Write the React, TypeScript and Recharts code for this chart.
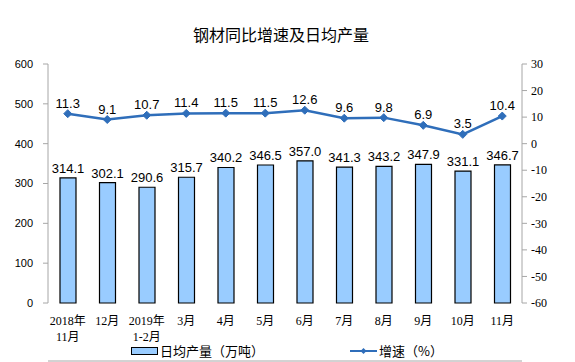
import { Bar, ComposedChart, LabelList, Line, XAxis, YAxis } from "recharts";

const MONTHS = [
  "2018年\n11月",
  "12月",
  "2019年\n1-2月",
  "3月",
  "4月",
  "5月",
  "6月",
  "7月",
  "8月",
  "9月",
  "10月",
  "11月",
];
const OUTPUT = [314.1, 302.1, 290.6, 315.7, 340.2, 346.5, 357.0, 341.3, 343.2, 347.9, 331.1, 346.7];
const GROWTH = [11.3, 9.1, 10.7, 11.4, 11.5, 11.5, 12.6, 9.6, 9.8, 6.9, 3.5, 10.4];
const LEFT_TICKS = [0, 100, 200, 300, 400, 500, 600];
const RIGHT_TICKS = [30, 20, 10, 0, -10, -20, -30, -40, -50, -60];
const BOUNDARY_TICKS = [0, 1, 2, 3, 4, 5, 6, 7, 8, 9, 10, 11, 12];

const LINE_COLOR = "#2F6EBA";
const BAR_FILL = "#99CCFF";
const AXIS_COLOR = "#A6A6A6";
const SANS = "Arial, 'Liberation Sans', 'Noto Sans CJK SC', sans-serif";
const SERIF = "'Times New Roman', 'Liberation Serif', 'Noto Sans CJK SC', serif";

const rows = MONTHS.map((month, i) => ({
  month,
  pos: i + 0.5,
  output: OUTPUT[i],
  growth: GROWTH[i],
}));

function MonthTick({ x, y, payload }: { x?: number; y?: number; payload?: { value: string } }) {
  const lines = String(payload?.value ?? "").split("\n");
  return (
    <text x={x} y={y} textAnchor="middle" fontSize={12} fontFamily={SERIF} fill="#000">
      {lines.map((line, i) => (
        <tspan key={i} x={x} dy={i === 0 ? 22 : 16}>
          {line}
        </tspan>
      ))}
    </text>
  );
}

function Diamond({ cx, cy }: { cx?: number; cy?: number }) {
  if (cx == null || cy == null) return null;
  const r = 4;
  return (
    <path
      d={`M${cx},${cy - r}L${cx + r},${cy}L${cx},${cy + r}L${cx - r},${cy}Z`}
      fill={LINE_COLOR}
      stroke={LINE_COLOR}
    />
  );
}

export default function App() {
  return (
    <div
      style={{
        position: "absolute",
        left: 0,
        top: 0,
        width: 575,
        height: 362,
        background: "#fff",
        fontFamily: SANS,
      }}
    >
      <div
        style={{
          position: "absolute",
          top: 22,
          left: 0,
          width: 562,
          textAlign: "center",
          fontSize: 16,
          fontFamily: "'Noto Sans CJK SC', sans-serif",
          color: "#000",
        }}
      >
        钢材同比增速及日均产量
      </div>
      <ComposedChart
        width={575}
        height={362}
        data={rows}
        margin={{ top: 64, right: 0, left: 0, bottom: 0 }}
      >
        <XAxis
          xAxisId="edge"
          type="number"
          dataKey="pos"
          domain={[0, 12]}
          ticks={BOUNDARY_TICKS}
          height={1}
          tick={false}
          tickSize={4}
          tickLine={{ stroke: AXIS_COLOR }}
          axisLine={{ stroke: AXIS_COLOR }}
          allowDataOverflow
        />
        <XAxis
          xAxisId="cat"
          dataKey="month"
          height={58}
          tickSize={0}
          tickMargin={0}
          tickLine={false}
          axisLine={false}
          tick={<MonthTick />}
          interval={0}
        />
        <YAxis
          yAxisId="left"
          domain={[0, 600]}
          ticks={LEFT_TICKS}
          width={48}
          tickSize={5}
          tickMargin={10}
          axisLine={{ stroke: AXIS_COLOR }}
          tickLine={{ stroke: AXIS_COLOR }}
          tick={{ fontSize: 11, fill: "#000", fontFamily: SANS }}
        />
        <YAxis
          yAxisId="right"
          orientation="right"
          domain={[-60, 30]}
          ticks={RIGHT_TICKS}
          width={53}
          tickSize={5}
          tickMargin={4}
          axisLine={{ stroke: AXIS_COLOR }}
          tickLine={{ stroke: AXIS_COLOR }}
          tick={{ fontSize: 12, fill: "#000", fontFamily: SERIF }}
        />
        <Bar
          xAxisId="cat"
          yAxisId="left"
          dataKey="output"
          barSize={16}
          fill={BAR_FILL}
          stroke="#000"
          strokeWidth={1.2}
          isAnimationActive={false}
        >
          <LabelList
            dataKey="output"
            position="top"
            offset={5}
            formatter={(v: number) => v.toFixed(1)}
            style={{ fontSize: 13, fill: "#000", fontFamily: SANS }}
          />
        </Bar>
        <Line
          xAxisId="cat"
          yAxisId="right"
          dataKey="growth"
          stroke={LINE_COLOR}
          strokeWidth={2.5}
          dot={<Diamond />}
          activeDot={false}
          isAnimationActive={false}
        >
          <LabelList
            dataKey="growth"
            position="top"
            offset={6}
            formatter={(v: number) => v.toFixed(1)}
            style={{ fontSize: 13, fill: "#000", fontFamily: SANS }}
          />
        </Line>
      </ComposedChart>
      <div
        style={{
          position: "absolute",
          top: 342,
          left: 131,
          display: "flex",
          alignItems: "center",
          fontSize: 13,
          fontFamily: "'Noto Sans CJK SC', sans-serif",
          lineHeight: "18px",
        }}
      >
        <span
          style={{
            display: "inline-block",
            width: 25,
            height: 6,
            background: BAR_FILL,
            border: "1.5px solid #000",
            marginRight: 2,
          }}
        />
        日均产量（万吨）
      </div>
      <div
        style={{
          position: "absolute",
          top: 342,
          left: 350,
          display: "flex",
          alignItems: "center",
          fontSize: 13,
          fontFamily: "'Noto Sans CJK SC', sans-serif",
          lineHeight: "18px",
        }}
      >
        <svg width={27} height={10} style={{ marginRight: 2 }}>
          <line x1={0} y1={5} x2={27} y2={5} stroke={LINE_COLOR} strokeWidth={2} />
          <path d="M13.5,2L16.5,5L13.5,8L10.5,5Z" fill={LINE_COLOR} />
        </svg>
        增速（%）
      </div>
    </div>
  );
}
